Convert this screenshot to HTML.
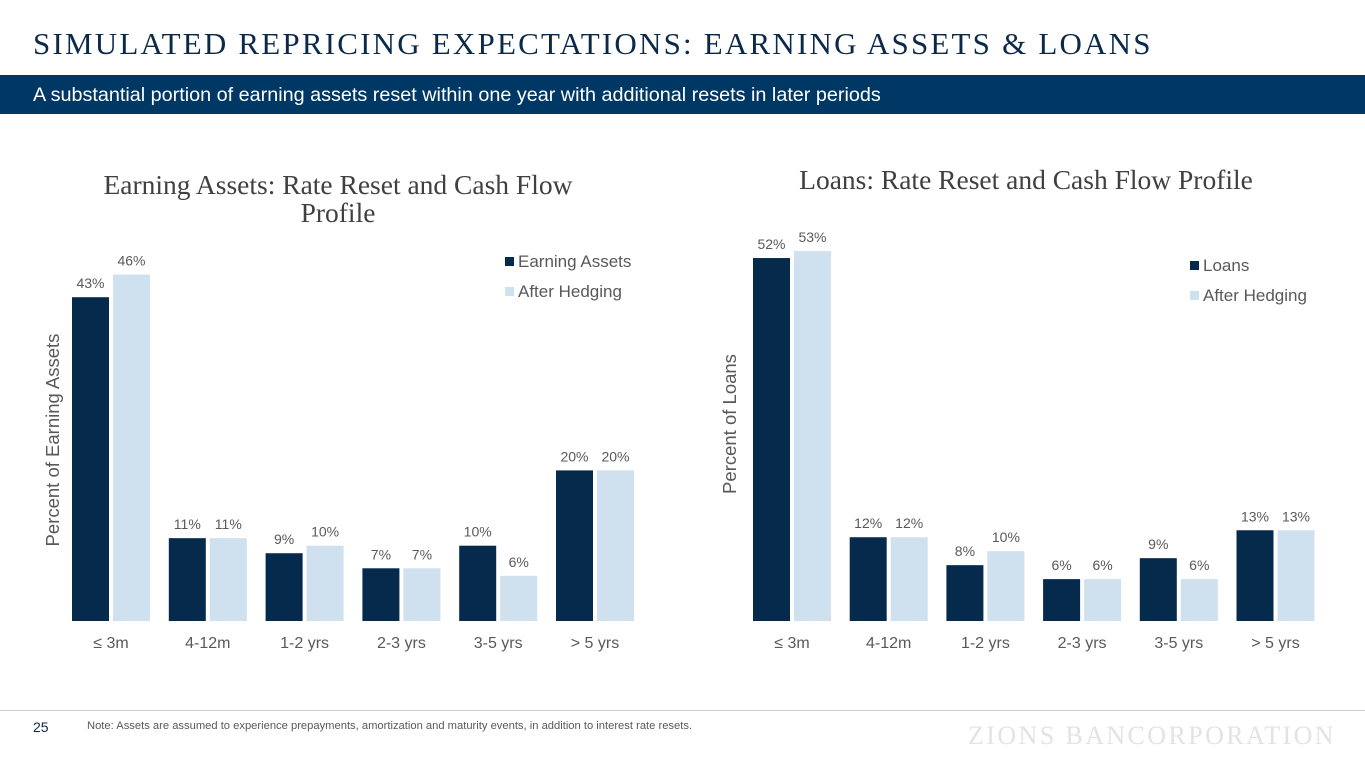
<!DOCTYPE html>
<html><head><meta charset="utf-8"><style>
body{margin:0;width:1365px;height:768px;background:#fff;overflow:hidden;position:relative;font-family:"Liberation Sans",sans-serif}
.a{position:absolute;white-space:nowrap}
</style></head><body>
<div class="a" style="left:33px;top:26px;font-family:'Liberation Serif',serif;font-size:31px;letter-spacing:2.2px;color:#0b2a4a">SIMULATED REPRICING EXPECTATIONS: EARNING ASSETS &amp; LOANS</div>
<div class="a" style="left:0;top:75px;width:1365px;height:39px;background:#003865"></div>
<div class="a" style="left:33px;top:84px;font-size:19.8px;color:#fff">A substantial portion of earning assets reset within one year with additional resets in later periods</div>
<svg class="a" style="left:0;top:0" width="1365" height="768">
<g id="c1"></g><g id="c2"></g>
</svg>
<div class="a" style="left:0;top:710px;width:1365px;height:1px;background:#d0d0d0"></div>
<div class="a" style="left:33px;top:719px;font-size:14px;color:#0b2a4a">25</div>
<div class="a" style="left:87px;top:720px;font-size:11.2px;color:#595959">Note: Assets are assumed to experience prepayments, amortization and maturity events, in addition to interest rate resets.</div>
<div class="a" style="left:968px;top:721px;font-family:'Liberation Serif',serif;font-size:26px;letter-spacing:2.4px;color:#e3e3e3">ZIONS BANCORPORATION</div>
<script>
const categories=["≤ 3m","4-12m","1-2 yrs","2-3 yrs","3-5 yrs","> 5 yrs"];
const assetsValues=[43,11,9,7,10,20];
const assetsHedged=[46,11,10,7,6,20];
const loansValues=[52,12,8,6,9,13];
const loansHedged=[53,12,10,6,6,13];
const NS="http://www.w3.org/2000/svg";
function mk(p,t,at,txt){const e=document.createElementNS(NS,t);for(const k in at)e.setAttribute(k,at[k]);if(txt!=null)e.textContent=txt;p.appendChild(e);return e;}
function chart(g,o){
  const y=v=>o.base-v*o.scale;
  const x=i=>o.x0+i*o.step;
  mk(g,'text',{x:o.tx,y:o.ty,'text-anchor':'middle','font-family':'Liberation Serif,serif','font-size':27.5,fill:'#404040',}).innerHTML=o.title;
  mk(g,'text',{x:0,y:0,transform:`translate(${o.yx},${o.yy}) rotate(-90)`,'text-anchor':'middle','font-size':18.5,fill:'#595959',},o.ytitle);
  categories.forEach((c,i)=>{
    [[o.a,'#062a4c',-1],[o.b,'#cfe0ee',1]].forEach(([arr,col,s])=>{
      const bx=s<0?x(i)-39:x(i)+2;
      const r=mk(g,'rect',{x:bx,y:y(arr[i]),width:37,height:o.base-y(arr[i]),fill:col});
      
      
      const t=mk(g,'text',{x:bx+18.5,y:y(arr[i])-9,'text-anchor':'middle','font-size':14,fill:'#595959'},arr[i]+'%');
      
      
    });
    const cl=mk(g,'text',{x:x(i),y:648,'text-anchor':'middle','font-size':16,fill:'#595959'},c);
    
    
  });
  [[o.l1,'#062a4c'],['After Hedging','#cfe0ee']].forEach(([t,c],k)=>{
    mk(g,'rect',{x:o.lx,y:o.ly-5+k*30,width:9,height:9,fill:c,});
    mk(g,'text',{x:o.lx+13,y:o.ly+5+k*30,'font-size':17,fill:'#595959',},t);
  });
}
chart(document.getElementById('c1'),{base:621,scale:7.53,x0:111,step:96.8,a:assetsValues,b:assetsHedged,title:'<tspan x="338" y="194">Earning Assets: Rate Reset and Cash Flow</tspan><tspan x="338" y="222">Profile</tspan>',tx:338,ty:194,ytitle:'Percent of Earning Assets',yx:59,yy:440,l1:'Earning Assets',lx:505,ly:262});
chart(document.getElementById('c2'),{base:621,scale:6.98,x0:792,step:96.7,a:loansValues,b:loansHedged,title:'Loans: Rate Reset and Cash Flow Profile',tx:1026,ty:189,ytitle:'Percent of Loans',yx:736,yy:424,l1:'Loans',lx:1190,ly:266});
</script>
</body></html>
